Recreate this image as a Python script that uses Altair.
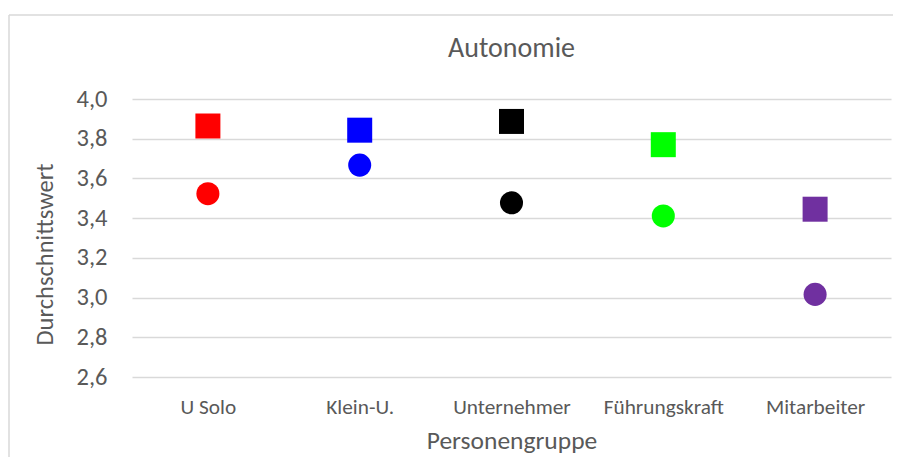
import altair as alt
import pandas as pd

# ---- data ----
categories = ["U Solo", "Klein-U.", "Unternehmer", "Führungskraft", "Mitarbeiter"]
square_values = [3.864, 3.843, 3.887, 3.770, 3.445]
circle_values = [3.523, 3.667, 3.477, 3.411, 3.016]
colors = ["#FF0000", "#0000FF", "#000000", "#00FF00", "#7030A0"]
y_ticks = [2.6, 2.8, 3.0, 3.2, 3.4, 3.6, 3.8, 4.0]

FONT = "Calibri, Carlito, Lato"
TEXT = "#595959"

sq_df = pd.DataFrame({"Personengruppe": categories, "Wert": square_values})
ci_df = pd.DataFrame({"Personengruppe": categories, "Wert": circle_values})
frame_df = pd.DataFrame({"k": [0]})

W, H = 759, 278
PAD = {"left": 124, "top": 91, "right": 2, "bottom": 80}

x_enc = alt.X(
    "Personengruppe:N",
    sort=categories,
    scale=alt.Scale(domain=categories),
    axis=alt.Axis(
        title="Personengruppe",
        labelAngle=0,
        labelFontSize=21.3,
        labelColor=TEXT,
        labelFont=FONT,
        labelPadding=19,
        labelBaseline="top",
        ticks=False,
        tickSize=0,
        domain=False,
        grid=False,
        titleFontSize=25.5,
        titleFont=FONT,
        titleColor=TEXT,
        titleFontWeight="normal",
        titleBaseline="alphabetic",
        titleY=71,
    ),
)
y_enc = alt.Y(
    "Wert:Q",
    scale=alt.Scale(domain=[2.6, 4.0], nice=False, zero=False),
    axis=alt.Axis(
        title="Durchschnittswert",
        values=y_ticks,
        labelExpr="replace(format(datum.value, '.1f'), '.', ',')",
        labelFontSize=24.5,
        labelColor=TEXT,
        labelFont=FONT,
        labelPadding=25,
        ticks=False,
        tickSize=0,
        domain=False,
        grid=True,
        gridColor="#D9D9D9",
        gridWidth=1.5,
        titleFontSize=24.5,
        titleFont=FONT,
        titleColor=TEXT,
        titleFontWeight="normal",
        titleAngle=270,
        titleAlign="center",
        titleBaseline="alphabetic",
        titleX=-80,
        titleY=155,
    ),
)
color_enc = alt.Color(
    "Personengruppe:N",
    scale=alt.Scale(domain=categories, range=colors),
    legend=None,
)

# light grey chart frame (top and left edges; right/bottom lie outside the picture)
frame_top = alt.Chart(frame_df).mark_rule(
    stroke="#D9D9D9", strokeWidth=1.5, clip=False
).encode(
    x=alt.value(-123),
    x2=alt.value(W + PAD["right"]),
    y=alt.value(-84),
)
frame_left = alt.Chart(frame_df).mark_rule(
    stroke="#D9D9D9", strokeWidth=1.5, clip=False
).encode(
    x=alt.value(-123),
    y=alt.value(-84),
    y2=alt.value(H + PAD["bottom"]),
)

squares = alt.Chart(sq_df).mark_point(
    shape="square", filled=True, opacity=1, size=625
).encode(x=x_enc, y=y_enc, color=color_enc)

circles = alt.Chart(ci_df).mark_point(
    shape="circle", filled=True, opacity=1, size=531
).encode(x=x_enc, y=y_enc, color=color_enc)

chart = (
    alt.layer(frame_top, frame_left, squares, circles)
    .properties(
        width=W,
        height=H,
        title=alt.TitleParams(
            "Autonomie",
            fontSize=28,
            font=FONT,
            color=TEXT,
            fontWeight="normal",
            anchor="middle",
            baseline="bottom",
            offset=0,
            dy=77,
        ),
        autosize=alt.AutoSizeParams(type="none"),
        padding=PAD,
        background="white",
    )
    .configure_view(stroke=None)
    .configure_scale(pointPadding=0.5)
)

chart.save("out.html", embed_options={"renderer": "svg", "actions": False})
